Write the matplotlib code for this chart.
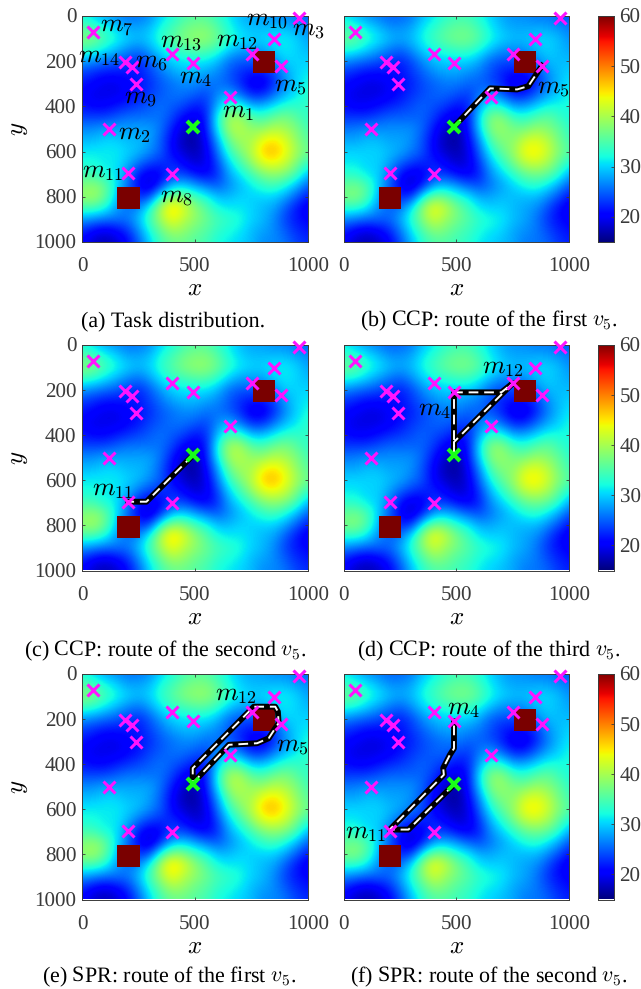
"""Task map panels: hotspot field, tasks, depots and the v5 routes."""
import matplotlib
matplotlib.use("Agg")
import matplotlib.pyplot as plt
from matplotlib.patches import Rectangle
import numpy as np

plt.rcParams["font.family"] = ["Liberation Serif", "DejaVu Serif"]
plt.rcParams["mathtext.fontset"] = "cm"
plt.rcParams["text.hinting"] = "none"
plt.rcParams["text.hinting_factor"] = 1

W, H = 641, 989
GRAY = "#3a3a3a"

# field on a 50-unit grid, rows y=0..1000, columns x=0..1000
field = np.array([
    [31, 29, 27, 26, 25, 25, 26, 29, 31, 33, 34, 34, 32, 30, 28, 27, 27, 26, 26, 25, 24],
    [34, 33, 31, 29, 27, 27, 28, 31, 33, 35, 36, 36, 34, 31, 29, 28, 28, 28, 28, 27, 26],
    [36, 36, 33, 31, 29, 28, 29, 32, 34, 36, 37, 37, 35, 32, 30, 29, 29, 30, 30, 29, 27],
    [33, 32, 30, 28, 26, 25, 27, 30, 32, 33, 34, 34, 32, 29, 27, 27, 27, 29, 30, 29, 28],
    [27, 26, 25, 24, 23, 22, 24, 27, 29, 30, 30, 30, 28, 25, 24, 24, 24, 26, 29, 29, 29],
    [23, 22, 21, 21, 21, 21, 23, 25, 27, 28, 28, 27, 26, 24, 22, 21, 21, 23, 27, 29, 30],
    [21, 20, 19, 19, 20, 21, 22, 24, 25, 26, 26, 25, 25, 24, 22, 19, 19, 22, 26, 29, 31],
    [20, 19, 19, 19, 20, 21, 23, 24, 25, 25, 24, 23, 26, 28, 25, 22, 22, 25, 28, 30, 32],
    [21, 20, 20, 21, 22, 23, 24, 25, 24, 23, 21, 22, 28, 33, 32, 28, 28, 30, 32, 32, 32],
    [23, 23, 23, 24, 25, 25, 25, 25, 23, 20, 19, 21, 31, 38, 38, 34, 33, 35, 36, 34, 32],
    [26, 26, 27, 27, 27, 27, 27, 25, 21, 18, 17, 21, 30, 38, 39, 37, 37, 39, 38, 36, 33],
    [28, 28, 29, 29, 28, 28, 27, 24, 20, 17, 16, 20, 27, 35, 38, 38, 42, 43, 41, 37, 34],
    [30, 30, 30, 30, 29, 28, 26, 24, 20, 18, 17, 19, 25, 32, 36, 39, 44, 45, 42, 38, 35],
    [31, 31, 30, 30, 28, 25, 23, 22, 22, 20, 18, 19, 23, 29, 33, 37, 41, 42, 40, 36, 32],
    [33, 33, 31, 30, 26, 21, 19, 20, 23, 23, 21, 20, 22, 27, 30, 33, 36, 37, 36, 33, 28],
    [36, 37, 35, 30, 25, 20, 18, 22, 28, 29, 27, 25, 24, 26, 28, 30, 32, 33, 31, 28, 24],
    [37, 38, 35, 29, 24, 22, 23, 32, 37, 36, 33, 31, 28, 28, 29, 29, 29, 29, 27, 24, 21],
    [33, 33, 31, 27, 25, 26, 31, 39, 44, 41, 37, 34, 31, 30, 30, 29, 28, 27, 24, 21, 19],
    [27, 26, 25, 25, 25, 28, 33, 38, 42, 39, 37, 35, 33, 32, 31, 29, 28, 26, 23, 21, 20],
    [22, 20, 19, 20, 22, 26, 31, 35, 38, 37, 35, 34, 32, 31, 30, 28, 27, 26, 24, 22, 21],
    [20, 18, 17, 18, 20, 24, 29, 33, 35, 35, 34, 33, 31, 30, 29, 28, 26, 26, 25, 23, 22],
], dtype=float)

task_x = [655, 120, 960, 490, 880, 220, 50, 400, 240, 850, 205, 750, 400, 190]
task_y = [360, 500, 10, 210, 220, 225, 70, 700, 300, 100, 695, 170, 170, 205]
source_x, source_y = 490, 490
depot_x = [806, 206]
depot_y = [205, 806]
depot_size = 98

route_b = ([490, 650, 770, 820, 880], [490, 320, 325, 310, 220])
route_c = ([490, 285, 205], [490, 695, 695])
route_d = ([490, 490, 700, 750, 490, 490], [490, 210, 210, 170, 430, 490])
route_e = ([490, 650, 775, 826, 870, 867, 855, 760, 490, 490],
           [484, 314, 307, 285, 218, 167, 145, 145, 418, 484])
route_f = ([490, 288, 205, 445, 442, 472, 490, 490],
           [490, 690, 690, 447, 417, 358, 330, 210])

ticks = [0, 500, 1000]
yticks = [0, 200, 400, 600, 800, 1000]
cbar_ticks = [20, 30, 40, 50, 60]

captions = ["(a) Task distribution.",
            r"(b) CCP: route of the first $v_5$.",
            r"(c) CCP: route of the second $v_5$.",
            r"(d) CCP: route of the third $v_5$.",
            r"(e) SPR: route of the first $v_5$.",
            r"(f) SPR: route of the second $v_5$."]
caption_x = [173, 489, 165, 489, 169, 489]
caption_y = [321, 321, 651, 651, 977, 977]

# label, x, y per panel
labels_a = [(r"$m_{1}$", 620, 420), (r"$m_{2}$", 160, 520), (r"$m_{3}$", 930, 65),
            (r"$m_{4}$", 430, 270), (r"$m_{5}$", 850, 310), (r"$m_{6}$", 235, 205),
            (r"$m_{7}$", 80, 45), (r"$m_{8}$", 345, 800), (r"$m_{9}$", 185, 365),
            (r"$m_{10}$", 725, 20), (r"$m_{11}$", 0, 685), (r"$m_{12}$", 595, 105),
            (r"$m_{13}$", 345, 115), (r"$m_{14}$", -18, 180)]
labels_b = [(r"$m_{5}$", 860, 320)]
labels_c = [(r"$m_{11}$", 45, 640)]
labels_d = [(r"$m_{4}$", 330, 285), (r"$m_{12}$", 615, 100)]
labels_e = [(r"$m_{12}$", 590, 90), (r"$m_{5}$", 860, 320)]
labels_f = [(r"$m_{4}$", 460, 150), (r"$m_{11}$", 5, 700)]


def axes_px(left, top, right, bottom):
    return fig.add_axes([left / W, 1 - bottom / H, (right - left) / W, (bottom - top) / H])


def panel(box, vmax, route=None, labels=(), cbar=None):
    ax = axes_px(*box)
    ax.imshow(field, cmap="jet", vmin=15, vmax=vmax, interpolation="bicubic",
              extent=(-25, 1025, 1025, -25), aspect="auto")
    for dx, dy in zip(depot_x, depot_y):
        ax.add_patch(Rectangle((dx - depot_size / 2, dy - depot_size / 2), depot_size, depot_size,
                               color="#7a0000", lw=0, zorder=3))
    if route is not None:
        ax.plot(route[0], route[1], color="black", lw=4.2, solid_joinstyle="round", zorder=4)
        ax.plot(route[0], route[1], color="white", lw=1.4, ls=(0, (5, 3)), zorder=5)
    ax.plot(task_x, task_y, "x", color="#ff14ff", ms=8, mew=2.2, zorder=6, clip_on=False)
    ax.plot(source_x, source_y, "x", color="#19ff19", ms=8, mew=3, zorder=7)
    for txt, x, y in labels:
        ax.text(x, y, txt, fontsize=18.5, color="black", ha="left", va="center", zorder=8)
    ax.set_xlim(0, 1000)
    ax.set_ylim(1000, 0)
    ax.set_xticks(ticks)
    ax.set_yticks(yticks)
    ax.tick_params(direction="in", top=True, right=True, length=2.5, width=0.6,
                   labelsize=15, color=GRAY, labelcolor=GRAY, pad=4)
    ax.tick_params(axis="x", pad=11)
    for s in ax.spines.values():
        s.set_color(GRAY)
        s.set_linewidth(0.7)
    ax.set_xlabel("$x$", fontsize=18, labelpad=1)
    if cbar is None:
        # only the left column carries the y tick labels and y label
        ax.set_ylabel("$y$", fontsize=18)
        ax.yaxis.set_label_coords(-52 / (box[2] - box[0]), 0.5)
    else:
        ax.tick_params(axis="y", labelleft=False)
        cax = axes_px(*cbar)
        grad = np.linspace(60, 15, 256)[:, None]
        cax.imshow(grad, cmap="jet", vmin=15, vmax=60, extent=(0, 1, 15, 60), aspect="auto")
        cax.set_ylim(15, 60)
        cax.set_xticks([])
        cax.yaxis.tick_right()
        cax.set_yticks(cbar_ticks)
        cax.tick_params(direction="in", length=2, width=0.6, labelsize=15,
                        color=GRAY, labelcolor=GRAY, pad=4)
        for s in cax.spines.values():
            s.set_color(GRAY)
            s.set_linewidth(0.7)
    return ax


fig = plt.figure(figsize=(W / 100, H / 100), dpi=100)

left_col = (82, 308)
right_col = (343.5, 569)
rows = [(16, 242), (345, 570.5), (674, 899.5)]
cbar_col = (598, 614)
vmax_left, vmax_right = 57, 60

panel((left_col[0], rows[0][0], left_col[1], rows[0][1]), vmax_left, None, labels_a)
panel((right_col[0], rows[0][0], right_col[1], rows[0][1]), vmax_right, route_b, labels_b,
      (cbar_col[0], rows[0][0], cbar_col[1], rows[0][1]))
panel((left_col[0], rows[1][0], left_col[1], rows[1][1]), vmax_left, route_c, labels_c)
panel((right_col[0], rows[1][0], right_col[1], rows[1][1]), vmax_right, route_d, labels_d,
      (cbar_col[0], rows[1][0], cbar_col[1], rows[1][1]))
panel((left_col[0], rows[2][0], left_col[1], rows[2][1]), vmax_left, route_e, labels_e)
panel((right_col[0], rows[2][0], right_col[1], rows[2][1]), vmax_right, route_f, labels_f,
      (cbar_col[0], rows[2][0], cbar_col[1], rows[2][1]))

for txt, x, y in zip(captions, caption_x, caption_y):
    fig.text(x / W, 1 - y / H, txt, fontsize=15.8, ha="center", va="center", color="black")

fig.savefig("out.png", dpi=100)
